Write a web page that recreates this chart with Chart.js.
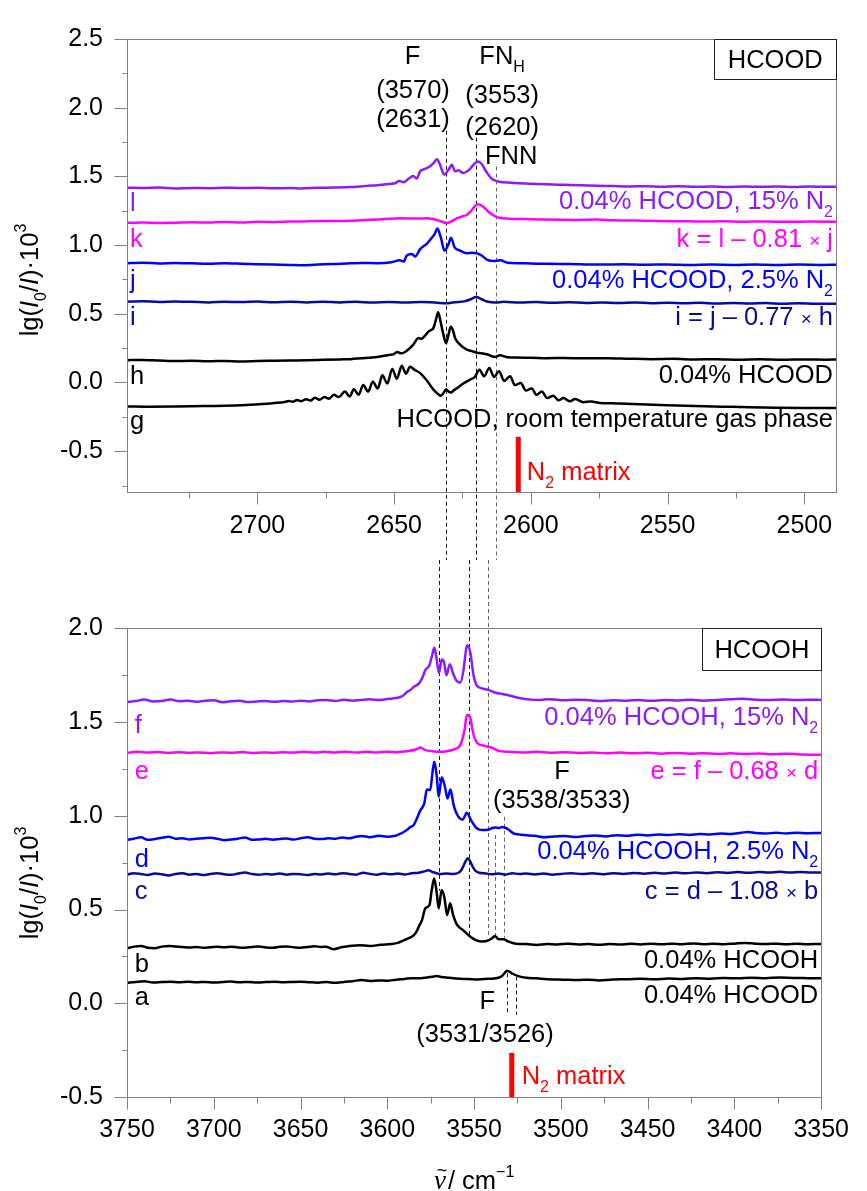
<!DOCTYPE html>
<html>
<head>
<meta charset="utf-8">
<script src="https://cdn.jsdelivr.net/npm/chart.js@4.4.1/dist/chart.umd.min.js"></script>
<style>
  html, body { margin: 0; padding: 0; background: #fff; }
  #wrap { position: relative; width: 867px; height: 1191px; overflow: hidden; }
  #c1 { position: absolute; left: 0; top: 0; }
  #c2 { position: absolute; left: 0; top: 560px; }
</style>
</head>
<body>
<div id="wrap">
  <canvas id="c1" width="867" height="560"></canvas>
  <canvas id="c2" width="867" height="631"></canvas>
</div>
<script>
// ---------- HCOOD region (upper panel), wavenumber / cm-1 vs absorbance ----------
const traceL = [[2748,1.418],[2742,1.416],[2736,1.419],[2730,1.412],[2724,1.416],[2718,1.414],[2712,1.418],[2706,1.415],[2700,1.417],[2694,1.413],[2688,1.416],[2684,1.412],[2678,1.417],[2672,1.419],[2666,1.422],[2660,1.431],[2656,1.436],[2653,1.443],[2650,1.448],[2648,1.466],[2646.5,1.458],[2645,1.478],[2643,1.502],[2641.7,1.485],[2640.5,1.537],[2638.7,1.554],[2637,1.572],[2635.6,1.596],[2634.4,1.624],[2633.2,1.584],[2631.7,1.513],[2630.1,1.549],[2628.9,1.584],[2627.7,1.537],[2626.5,1.544],[2624.7,1.525],[2622.8,1.544],[2621,1.584],[2619.4,1.608],[2618,1.590],[2616.1,1.528],[2614.3,1.483],[2612.5,1.466],[2610,1.457],[2606,1.452],[2600,1.447],[2594,1.442],[2588,1.439],[2582,1.436],[2576,1.432],[2570,1.430],[2564,1.427],[2558,1.429],[2552,1.425],[2546,1.428],[2540,1.424],[2534,1.426],[2528,1.423],[2522,1.427],[2516,1.424],[2510,1.426],[2504,1.423],[2498,1.427],[2492,1.424],[2488,1.425]];
const traceK = [[2748,1.162],[2742,1.165],[2736,1.160],[2730,1.163],[2724,1.166],[2718,1.164],[2712,1.168],[2706,1.165],[2700,1.169],[2694,1.167],[2688,1.171],[2684,1.172],[2678,1.175],[2672,1.176],[2666,1.178],[2660,1.183],[2654,1.188],[2648,1.195],[2642,1.193],[2638,1.195],[2634.4,1.183],[2632.5,1.170],[2630.8,1.160],[2629,1.172],[2627.1,1.195],[2625,1.210],[2623.4,1.219],[2621.6,1.254],[2620.4,1.285],[2619.2,1.297],[2617.3,1.278],[2614.9,1.231],[2611.9,1.200],[2608,1.192],[2602,1.189],[2596,1.186],[2590,1.184],[2584,1.183],[2576,1.186],[2570,1.181],[2562,1.179],[2554,1.175],[2546,1.174],[2538,1.172],[2530,1.173],[2522,1.170],[2514,1.172],[2506,1.169],[2498,1.171],[2488,1.170]];
const traceJ = [[2748,0.868],[2742,0.872],[2736,0.866],[2730,0.870],[2724,0.867],[2718,0.864],[2712,0.868],[2706,0.865],[2700,0.861],[2694,0.858],[2688,0.856],[2684,0.853],[2678,0.858],[2672,0.862],[2666,0.868],[2662,0.870],[2656,0.868],[2651,0.875],[2648,0.889],[2646.5,0.880],[2645.4,0.924],[2643.5,0.936],[2642.3,0.917],[2640.5,0.971],[2638,1.011],[2636.2,1.054],[2635.2,1.080],[2634.2,1.120],[2632.9,1.054],[2631.6,0.960],[2630.1,1.007],[2629.2,1.054],[2627.9,0.983],[2625.9,0.960],[2623.4,0.941],[2621.5,0.944],[2619.8,0.941],[2618,0.924],[2616.1,0.894],[2613.7,0.884],[2611.2,0.889],[2608.5,0.872],[2604,0.868],[2598,0.865],[2590,0.863],[2582,0.860],[2574,0.858],[2566,0.861],[2558,0.857],[2550,0.859],[2542,0.855],[2534,0.858],[2526,0.856],[2518,0.859],[2510,0.855],[2502,0.858],[2494,0.856],[2488,0.857]];
const traceI = [[2748,0.588],[2742,0.592],[2736,0.586],[2730,0.590],[2724,0.587],[2718,0.583],[2712,0.588],[2706,0.585],[2700,0.589],[2694,0.584],[2688,0.588],[2682,0.583],[2676,0.587],[2670,0.583],[2664,0.587],[2658,0.582],[2652,0.586],[2646,0.582],[2640,0.586],[2635,0.582],[2631,0.576],[2628,0.584],[2624,0.592],[2622,0.606],[2620,0.622],[2618,0.606],[2616,0.589],[2613,0.582],[2610,0.587],[2604,0.582],[2598,0.586],[2592,0.580],[2586,0.584],[2580,0.579],[2574,0.583],[2568,0.578],[2562,0.582],[2556,0.577],[2550,0.581],[2544,0.576],[2538,0.580],[2532,0.575],[2526,0.579],[2520,0.574],[2514,0.578],[2508,0.573],[2502,0.577],[2496,0.573],[2488,0.574]];
const traceH = [[2748,0.162],[2742,0.164],[2736,0.160],[2730,0.156],[2724,0.158],[2718,0.154],[2712,0.157],[2706,0.153],[2700,0.156],[2694,0.158],[2688,0.160],[2682,0.162],[2676,0.165],[2670,0.168],[2666,0.170],[2662,0.176],[2658,0.182],[2654,0.193],[2652,0.200],[2650.3,0.205],[2648.8,0.222],[2647.5,0.212],[2646,0.222],[2644.8,0.240],[2643,0.276],[2641.1,0.323],[2640,0.318],[2639.3,0.328],[2638.3,0.350],[2637.5,0.370],[2636.5,0.382],[2635.7,0.394],[2634.8,0.450],[2633.9,0.511],[2633,0.441],[2632,0.350],[2631,0.287],[2630.2,0.340],[2629.3,0.405],[2628.5,0.380],[2627.7,0.323],[2625.9,0.276],[2623.5,0.240],[2621.5,0.228],[2619.8,0.217],[2618,0.212],[2616.1,0.205],[2614.5,0.193],[2613.1,0.186],[2611.3,0.198],[2609,0.186],[2605.2,0.181],[2600,0.180],[2594,0.177],[2588,0.178],[2580,0.176],[2572,0.177],[2564,0.173],[2556,0.170],[2548,0.172],[2540,0.168],[2532,0.170],[2524,0.166],[2516,0.169],[2508,0.165],[2500,0.168],[2492,0.166],[2488,0.167]];
const traceG = [[2748,-0.174],[2740,-0.176],[2730,-0.175],[2720,-0.172],[2712,-0.170],[2704,-0.164],[2698,-0.157],[2694,-0.150],[2690,-0.142],[2688.5,-0.135],[2687,-0.140],[2685.5,-0.128],[2684,-0.136],[2682.3,-0.122],[2680.6,-0.132],[2679,-0.112],[2677.3,-0.126],[2675.5,-0.105],[2673.8,-0.118],[2672,-0.090],[2670.2,-0.106],[2668,-0.066],[2666.3,-0.102],[2664.7,-0.050],[2663,-0.090],[2661.3,-0.019],[2659.5,-0.066],[2657.8,0.005],[2656,-0.043],[2654.3,0.052],[2652.5,-0.007],[2650.7,0.099],[2649,0.028],[2647.2,0.122],[2645.7,0.064],[2644.2,0.115],[2642.5,0.092],[2640.5,0.068],[2638.1,0.016],[2635.7,-0.050],[2634,-0.083],[2633,-0.097],[2632,-0.078],[2631,-0.050],[2630.1,-0.066],[2629.3,-0.073],[2628,-0.054],[2627.1,-0.043],[2624.7,-0.007],[2622.2,0.021],[2620.5,0.040],[2618.8,0.092],[2617.1,0.045],[2615.2,0.106],[2613.5,0.040],[2611.6,0.082],[2609.8,0.012],[2607.6,0.045],[2605.8,-0.019],[2603.7,-0.003],[2601.8,-0.059],[2599.7,-0.043],[2597.9,-0.090],[2596,-0.066],[2594,-0.113],[2591.8,-0.097],[2589.9,-0.130],[2588.1,-0.113],[2585.7,-0.137],[2583.8,-0.120],[2580.8,-0.144],[2578,-0.138],[2574.7,-0.149],[2570,-0.152],[2567.4,-0.153],[2560,-0.158],[2550,-0.166],[2540,-0.172],[2530,-0.176],[2520,-0.180],[2510,-0.183],[2500,-0.185],[2488,-0.186]];

// ---------- HCOOH region (lower panel) ----------
const traceF = [[3750,1.607],[3745,1.612],[3740,1.620],[3735,1.610],[3730,1.612],[3725,1.620],[3720,1.611],[3715,1.613],[3710,1.608],[3705,1.614],[3700,1.616],[3695,1.606],[3690,1.611],[3685,1.613],[3680,1.607],[3675,1.610],[3670,1.612],[3665,1.608],[3660,1.612],[3655,1.609],[3650,1.614],[3645,1.610],[3640,1.616],[3635,1.617],[3630,1.612],[3625,1.619],[3620,1.614],[3615,1.618],[3610,1.621],[3605,1.617],[3600,1.623],[3597,1.626],[3594,1.630],[3591.3,1.638],[3588.5,1.661],[3586.5,1.672],[3584.7,1.688],[3581.9,1.705],[3580,1.732],[3578.1,1.777],[3576.8,1.790],[3575.7,1.803],[3574.4,1.848],[3572.9,1.897],[3571.5,1.830],[3570.2,1.762],[3568.7,1.833],[3567.4,1.821],[3565.9,1.750],[3564,1.808],[3562.1,1.759],[3560.3,1.723],[3558,1.709],[3556.1,1.777],[3555,1.860],[3554.1,1.910],[3552.2,1.874],[3550.5,1.759],[3548.6,1.697],[3545.2,1.679],[3541.4,1.670],[3537.7,1.656],[3534,1.650],[3530.2,1.643],[3526,1.632],[3522.6,1.625],[3518,1.620],[3513,1.617],[3508,1.621],[3503.8,1.620],[3498,1.616],[3492,1.619],[3485,1.617],[3478,1.612],[3470,1.616],[3462,1.614],[3455,1.618],[3448,1.613],[3440,1.617],[3432,1.615],[3425,1.619],[3418,1.614],[3410,1.618],[3402,1.621],[3395,1.624],[3388,1.619],[3380,1.618],[3372,1.620],[3365,1.617],[3358,1.619],[3350,1.618]];
const traceE = [[3750,1.336],[3744,1.341],[3738,1.337],[3732,1.340],[3726,1.335],[3720,1.339],[3714,1.336],[3708,1.338],[3702,1.334],[3696,1.338],[3690,1.336],[3684,1.340],[3678,1.335],[3672,1.338],[3666,1.336],[3660,1.339],[3654,1.337],[3648,1.341],[3642,1.338],[3636,1.341],[3630,1.338],[3624,1.342],[3618,1.337],[3612,1.341],[3606,1.338],[3600,1.342],[3594,1.339],[3588,1.345],[3583,1.355],[3580.9,1.364],[3578,1.350],[3574,1.344],[3569.7,1.341],[3565,1.346],[3561,1.356],[3558.4,1.371],[3557,1.400],[3555.5,1.457],[3554.1,1.537],[3552.2,1.524],[3551.3,1.480],[3550.5,1.439],[3549,1.400],[3548,1.386],[3545,1.376],[3543.3,1.371],[3540,1.364],[3535.8,1.346],[3530,1.341],[3522,1.338],[3514,1.341],[3506,1.336],[3498,1.339],[3490,1.335],[3482,1.338],[3474,1.333],[3466,1.337],[3458,1.333],[3450,1.336],[3442,1.331],[3434,1.335],[3426,1.331],[3418,1.334],[3410,1.330],[3402,1.333],[3394,1.329],[3386,1.332],[3378,1.328],[3370,1.331],[3362,1.327],[3350,1.326]];
const traceD = [[3750,0.872],[3746,0.878],[3742,0.885],[3738,0.872],[3734,0.876],[3730,0.883],[3726,0.888],[3722,0.878],[3718,0.880],[3714,0.874],[3710,0.877],[3706,0.880],[3702,0.883],[3698,0.878],[3694,0.870],[3690,0.874],[3686,0.878],[3682,0.884],[3678,0.872],[3674,0.874],[3670,0.877],[3666,0.872],[3662,0.876],[3658,0.879],[3654,0.873],[3650,0.880],[3646,0.886],[3642,0.878],[3638,0.876],[3634,0.880],[3630,0.878],[3626,0.884],[3622,0.880],[3618,0.888],[3614.8,0.892],[3610,0.886],[3605,0.893],[3600,0.888],[3596,0.892],[3593,0.902],[3590.3,0.915],[3588,0.930],[3586.6,0.941],[3585,0.948],[3583.8,0.968],[3580.9,1.030],[3578.7,1.066],[3577.2,1.140],[3575.3,1.137],[3573.8,1.244],[3572.9,1.288],[3571.5,1.208],[3570.4,1.101],[3568.7,1.205],[3566.8,1.155],[3565.3,1.092],[3563.6,1.140],[3561.8,1.057],[3559.3,0.998],[3556.5,0.980],[3554.2,1.016],[3551.8,0.977],[3549,0.938],[3547,0.926],[3545.2,0.924],[3541.4,0.927],[3539.5,0.935],[3537.7,0.938],[3535.5,0.935],[3533.9,0.940],[3532,0.936],[3530.2,0.927],[3527.3,0.906],[3524,0.900],[3520.8,0.897],[3515,0.893],[3509.5,0.885],[3504,0.890],[3498,0.892],[3492,0.887],[3486,0.892],[3480,0.895],[3474,0.890],[3468,0.896],[3462,0.893],[3456,0.899],[3450,0.895],[3444,0.900],[3438,0.897],[3432,0.902],[3426,0.898],[3420,0.903],[3414,0.900],[3408,0.905],[3402,0.903],[3396,0.910],[3392,0.914],[3388,0.908],[3382,0.906],[3376,0.909],[3370,0.906],[3364,0.910],[3358,0.907],[3350,0.908]];
const traceC = [[3750,0.686],[3746,0.694],[3742,0.690],[3738,0.684],[3734,0.692],[3730,0.688],[3726,0.682],[3722,0.690],[3718,0.693],[3714,0.686],[3710,0.690],[3706,0.684],[3702,0.690],[3698,0.693],[3694,0.688],[3690,0.685],[3686,0.692],[3682,0.697],[3678,0.689],[3674,0.685],[3670,0.690],[3666,0.687],[3662,0.692],[3658,0.686],[3654,0.690],[3650,0.688],[3646,0.684],[3642,0.690],[3638,0.687],[3634,0.692],[3630,0.688],[3626,0.694],[3622,0.690],[3618,0.686],[3614,0.696],[3610,0.690],[3606,0.686],[3602,0.692],[3598,0.688],[3594,0.692],[3590,0.687],[3586,0.693],[3582,0.696],[3578,0.705],[3576.2,0.710],[3574,0.700],[3571,0.692],[3569.6,0.689],[3566,0.692],[3562,0.690],[3559,0.696],[3557.5,0.708],[3556.5,0.725],[3555,0.755],[3553.7,0.773],[3552.3,0.758],[3550.8,0.728],[3549,0.705],[3547,0.696],[3543,0.692],[3540,0.688],[3536,0.692],[3532,0.686],[3528,0.694],[3524,0.689],[3520,0.692],[3515,0.687],[3510,0.692],[3505,0.686],[3500,0.690],[3494,0.694],[3488,0.689],[3482,0.693],[3476,0.688],[3470,0.694],[3464,0.690],[3458,0.695],[3452,0.691],[3446,0.696],[3440,0.692],[3434,0.697],[3428,0.693],[3422,0.698],[3416,0.694],[3410,0.699],[3404,0.695],[3398,0.700],[3392,0.696],[3386,0.700],[3380,0.697],[3374,0.701],[3368,0.697],[3362,0.700],[3356,0.697],[3350,0.698]];
const traceB = [[3750,0.293],[3746,0.302],[3742,0.306],[3738,0.296],[3734,0.294],[3730,0.302],[3726,0.306],[3722,0.303],[3718,0.300],[3714,0.297],[3710,0.300],[3706,0.296],[3702,0.299],[3698,0.302],[3694,0.299],[3690,0.302],[3686,0.298],[3682,0.296],[3678,0.300],[3674,0.303],[3670,0.298],[3666,0.296],[3662,0.301],[3658,0.303],[3654,0.299],[3650,0.296],[3646,0.300],[3642,0.304],[3638,0.300],[3635.5,0.302],[3631,0.288],[3626,0.300],[3622,0.305],[3616,0.310],[3610,0.305],[3604,0.312],[3597.9,0.316],[3594,0.322],[3590.3,0.337],[3587,0.350],[3584.7,0.364],[3583,0.385],[3581.9,0.408],[3580,0.444],[3578.1,0.506],[3575.7,0.524],[3574.4,0.604],[3573,0.666],[3571.5,0.586],[3570.4,0.506],[3568.7,0.604],[3567.2,0.568],[3565.5,0.471],[3563.8,0.533],[3562.1,0.471],[3560.3,0.426],[3558.5,0.405],[3556.5,0.391],[3552.7,0.359],[3549,0.337],[3545.2,0.329],[3541.4,0.337],[3539.5,0.348],[3538.1,0.359],[3535.8,0.341],[3533,0.341],[3530.2,0.329],[3526,0.318],[3520,0.316],[3514,0.311],[3508,0.316],[3502,0.313],[3496,0.318],[3490,0.314],[3484,0.316],[3478,0.312],[3472,0.316],[3466,0.313],[3460,0.317],[3454,0.314],[3448,0.318],[3442,0.315],[3436,0.318],[3430,0.315],[3424,0.319],[3418,0.315],[3412,0.318],[3406,0.315],[3400,0.318],[3394,0.322],[3388,0.318],[3382,0.316],[3376,0.318],[3370,0.315],[3364,0.317],[3358,0.315],[3350,0.316]];
const traceA = [[3750,0.110],[3745,0.114],[3740,0.117],[3735,0.111],[3730,0.113],[3725,0.115],[3720,0.112],[3715,0.115],[3710,0.112],[3705,0.114],[3700,0.111],[3695,0.113],[3690,0.116],[3685,0.112],[3680,0.114],[3675,0.111],[3670,0.113],[3665,0.115],[3660,0.112],[3655,0.114],[3650,0.115],[3645,0.112],[3640,0.110],[3635,0.113],[3630,0.109],[3625,0.114],[3620,0.118],[3614.8,0.124],[3610,0.119],[3605,0.122],[3600,0.120],[3595,0.126],[3590,0.130],[3586,0.134],[3582,0.133],[3577.2,0.138],[3574,0.142],[3571.5,0.145],[3569,0.140],[3566,0.138],[3562.1,0.133],[3556,0.130],[3549,0.127],[3544,0.130],[3539.6,0.131],[3536,0.136],[3533.9,0.145],[3532.5,0.160],[3531.1,0.174],[3529.5,0.168],[3528.3,0.160],[3524.5,0.145],[3520,0.136],[3514,0.133],[3508,0.128],[3502,0.127],[3496,0.125],[3490,0.124],[3484,0.126],[3478,0.122],[3470,0.127],[3462,0.128],[3454,0.131],[3446,0.128],[3438,0.132],[3430,0.130],[3422,0.134],[3414,0.131],[3406,0.135],[3398,0.133],[3390,0.136],[3382,0.134],[3374,0.137],[3366,0.135],[3358,0.134],[3350,0.133]];

// band positions (cm-1) marked by dashed guides
const guidesTop = [2631, 2620, 2612.7];
const guidesBottom = [3570, 3553, 3541.8, 3538, 3533, 3531, 3526];
// N2 matrix marker positions
const matrixTop = 2604.6;
const matrixBottom = 3528.3;

// ---------- styling ----------
const FONT = '"Liberation Sans", Arial, Helvetica, sans-serif';
const VIOLET = '#8c1aff', MAGENTA = '#ff00ff', BLUE = '#0000ff', NAVY = '#0a0a9a', BLACK = '#000000', RED = '#ff0000';
const AXIS = '#808080';
const NS = 25.5, SS = 16;

const t = s => ({ t: s, font: `${NS}px ${FONT}` });
const it = s => ({ t: s, font: `italic ${NS}px ${FONT}` });
const sm = s => ({ t: s, font: `19px ${FONT}` });
const sub = s => ({ t: s, font: `${SS}px ${FONT}`, dy: 8 });
const sup = s => ({ t: s, font: `${SS}px ${FONT}`, dy: -12 });

function richWidth(ctx, parts) {
  let w = 0;
  for (const p of parts) { ctx.font = p.font; w += ctx.measureText(p.t).width; }
  return w;
}
function drawRich(ctx, x, yc, parts, align, color) {
  const w = richWidth(ctx, parts);
  let cx = align === 'right' ? x - w : align === 'center' ? x - w / 2 : x;
  const base = yc + 9;
  ctx.fillStyle = color || BLACK;
  ctx.textAlign = 'left';
  ctx.textBaseline = 'alphabetic';
  for (const p of parts) {
    ctx.font = p.font;
    ctx.fillText(p.t, cx, base + (p.dy || 0));
    cx += ctx.measureText(p.t).width;
  }
}

const decor = {
  id: 'decor',
  beforeDatasetsDraw(chart, args, o) {
    const { ctx, chartArea: a, scales: { x, y } } = chart;
    ctx.save();
    ctx.lineWidth = 1;
    ctx.setLineDash([4, 3]);
    for (const g of o.guides) {
      const px = Math.round(x.getPixelForValue(g.x)) + 0.5;
      const y0 = g.from === 'top' ? 0 : y.getPixelForValue(g.from);
      const y1 = g.to === 'bottom' ? chart.height : y.getPixelForValue(g.to);
      ctx.strokeStyle = g.gray ? '#666666' : '#1a1a1a';
      ctx.beginPath(); ctx.moveTo(px, y0); ctx.lineTo(px, y1); ctx.stroke();
    }
    ctx.setLineDash([]);
    // N2 matrix marker
    const bx = x.getPixelForValue(o.bar.x);
    ctx.strokeStyle = RED; ctx.lineWidth = 5;
    ctx.beginPath(); ctx.moveTo(bx, y.getPixelForValue(o.bar.from)); ctx.lineTo(bx, a.bottom); ctx.stroke();
    ctx.restore();
  },
  afterDraw(chart, args, o) {
    const { ctx, chartArea: a, scales: { x, y } } = chart;
    ctx.save();
    // frame
    ctx.strokeStyle = AXIS; ctx.lineWidth = 1;
    ctx.strokeRect(Math.round(a.left) + 0.5, Math.round(a.top) + 0.5,
                   Math.round(a.right - a.left), Math.round(a.bottom - a.top));
    // x ticks (major every 50, minor every 25)
    const yb = Math.round(a.bottom) + 0.5;
    ctx.beginPath();
    for (let v = Math.ceil(x.min / 25) * 25; v <= x.max + 1e-6; v += 25) {
      const px = Math.round(x.getPixelForValue(v)) + 0.5;
      const len = (v % 50 === 0) ? 12 : 6;
      ctx.moveTo(px, yb); ctx.lineTo(px, yb + len);
    }
    // y ticks (major every 0.5, minor every 0.25)
    const xl = Math.round(a.left) + 0.5;
    for (let k = Math.ceil(y.min / 0.25 - 1e-9); k * 0.25 <= y.max + 1e-9; k++) {
      const py = Math.round(y.getPixelForValue(k * 0.25)) + 0.5;
      const len = (k % 2 === 0) ? 13 : 5;
      ctx.moveTo(xl, py); ctx.lineTo(xl - len, py);
    }
    ctx.stroke();
    // sample box
    const b = o.box;
    const bl = Math.round(x.getPixelForValue(b.x)) + 0.5;
    const bbt = Math.round(y.getPixelForValue(b.bottom)) + 0.5;
    ctx.strokeStyle = '#222'; ctx.lineWidth = 1;
    ctx.strokeRect(bl, Math.round(a.top) + 0.5, Math.round(a.right) - bl + 0.5, bbt - Math.round(a.top) - 0.5);
    drawRich(ctx, (bl + a.right) / 2, y.getPixelForValue(b.ty), [t(b.text)], 'center', BLACK);
    // annotations
    for (const n of o.notes) {
      drawRich(ctx, x.getPixelForValue(n.x), y.getPixelForValue(n.y), n.parts, n.align || 'left', n.color);
    }
    // y-axis title
    ctx.translate(o.yTitle.x + 9, o.yTitle.y);
    ctx.rotate(-Math.PI / 2);
    drawRich(ctx, 0, -9, [t('lg('), it('I'), sub('0'), t('/'), it('I'), t(')\u00b710'), sup('3')], 'center', BLACK);
    ctx.setTransform(1, 0, 0, 1, 0, 0);
    // x-axis title: wavenumber symbol with tilde, then unit
    if (o.xTitle) {
      const nuFont = 'italic 27px "Liberation Serif", "DejaVu Serif", serif';
      const rest = [t('/ cm'), sup('\u22121')];
      ctx.font = nuFont;
      const wn = ctx.measureText('\u03bd').width;
      const wr = richWidth(ctx, rest);
      const x0 = (a.left + a.right) / 2 - (wn + 2 + wr) / 2;
      const base = o.xTitle.y + 9;
      ctx.fillStyle = BLACK; ctx.textBaseline = 'alphabetic';
      ctx.font = nuFont; ctx.textAlign = 'left';
      ctx.fillText('\u03bd', x0, base);
      ctx.font = `18px ${FONT}`; ctx.textAlign = 'center';
      ctx.fillText('~', x0 + wn / 2 + 2, base - 13);
      drawRich(ctx, x0 + wn + 2, o.xTitle.y, rest, 'left', BLACK);
    }
    ctx.restore();
  }
};

function makeChart(id, cfg) {
  const ds = cfg.traces.map(([data, color]) => ({
    data: data.map(([xv, yv]) => ({ x: xv, y: yv })),
    borderColor: color,
    borderWidth: 2.5,
    pointRadius: 0,
    showLine: true,
    fill: false,
    cubicInterpolationMode: 'monotone'
  }));
  return new Chart(document.getElementById(id), {
    type: 'scatter',
    data: { datasets: ds },
    options: {
      responsive: false,
      animation: false,
      events: [],
      layout: { padding: { top: cfg.padTop, right: 31, left: 0, bottom: 0 } },
      plugins: { legend: { display: false }, tooltip: { enabled: false }, decor: cfg.decor },
      scales: {
        x: {
          type: 'linear', reverse: true, min: cfg.xMin, max: cfg.xMax,
          grid: { display: false, drawTicks: false }, border: { display: false },
          ticks: { stepSize: 50, includeBounds: false, autoSkip: false, maxRotation: 0,
                   padding: cfg.xPad, color: BLACK, font: { size: 25, family: FONT },
                   callback: v => String(Math.round(v)) },
          afterFit: s => { s.height = cfg.xHeight; }
        },
        y: {
          type: 'linear', min: cfg.yMin, max: cfg.yMax,
          grid: { display: false, drawTicks: false }, border: { display: false },
          ticks: { stepSize: 0.5, includeBounds: false, autoSkip: false, padding: 24,
                   color: BLACK, font: { size: 25, family: FONT },
                   callback: v => (Math.round(v * 10) / 10).toFixed(1) },
          afterFit: s => { s.width = 127; }
        }
      }
    },
    plugins: [decor]
  });
}

// upper panel: HCOOD
makeChart('c1', {
  xMin: 2488.4, xMax: 2747.7, yMin: -0.8, yMax: 2.5,
  padTop: 25.7, xHeight: 67.6, xPad: 18.6,
  traces: [[traceL, VIOLET], [traceK, MAGENTA], [traceJ, BLUE], [traceI, NAVY], [traceH, BLACK], [traceG, BLACK]],
  decor: {
    guides: [
      { x: guidesTop[0], from: 1.832, to: 'bottom' },
      { x: guidesTop[1], from: 1.782, to: 'bottom' },
      { x: guidesTop[2], from: 1.572, to: 'bottom', gray: true }
    ],
    bar: { x: matrixTop, from: -0.396 },
    box: { x: 2533.0, bottom: 2.206, ty: 2.355, text: 'HCOOD' },
    yTitle: { x: 29, y: 280 },
    xTitle: null,
    notes: [
      { x: 2643.3, y: 2.383, parts: [t('F')], align: 'center' },
      { x: 2643.1, y: 2.136, parts: [t('(3570)')], align: 'center' },
      { x: 2643.1, y: 1.924, parts: [t('(2631)')], align: 'center' },
      { x: 2610.5, y: 2.383, parts: [t('FN'), sub('H')], align: 'center' },
      { x: 2610.5, y: 2.100, parts: [t('(3553)')], align: 'center' },
      { x: 2610.5, y: 1.867, parts: [t('(2620)')], align: 'center' },
      { x: 2607.2, y: 1.655, parts: [t('FNN')], align: 'center' },
      { x: 2489.5, y: 1.330, parts: [t('0.04% HCOOD, 15% N'), sub('2')], align: 'right', color: VIOLET },
      { x: 2489.5, y: 1.054, parts: [t('k = l \u2013 0.81 '), sm('\u00d7'), t(' j')], align: 'right', color: MAGENTA },
      { x: 2489.5, y: 0.750, parts: [t('0.04% HCOOD, 2.5% N'), sub('2')], align: 'right', color: BLUE },
      { x: 2489.5, y: 0.481, parts: [t('i = j \u2013 0.77 '), sm('\u00d7'), t(' h')], align: 'right', color: NAVY },
      { x: 2489.5, y: 0.064, parts: [t('0.04% HCOOD')], align: 'right' },
      { x: 2489.5, y: -0.262, parts: [t('HCOOD, room temperature gas phase')], align: 'right' },
      { x: 2601.5, y: -0.644, parts: [t('N'), sub('2'), t(' matrix')], align: 'left', color: RED },
      { x: 2746.6, y: 1.315, parts: [t('l')], color: VIOLET },
      { x: 2746.6, y: 1.054, parts: [t('k')], color: MAGENTA },
      { x: 2746.6, y: 0.750, parts: [t('j')], color: BLUE },
      { x: 2746.6, y: 0.481, parts: [t('i')], color: NAVY },
      { x: 2746.6, y: 0.057, parts: [t('h')], color: BLACK },
      { x: 2746.6, y: -0.276, parts: [t('g')], color: BLACK }
    ]
  }
});

// lower panel: HCOOH
makeChart('c2', {
  xMin: 3350, xMax: 3750, yMin: -0.5, yMax: 2.0,
  padTop: 68.3, xHeight: 94, xPad: 18,
  traces: [[traceF, VIOLET], [traceE, MAGENTA], [traceD, BLUE], [traceC, NAVY], [traceB, BLACK], [traceA, BLACK]],
  decor: {
    guides: [
      { x: guidesBottom[0], from: 'top', to: 0.60 },
      { x: guidesBottom[1], from: 'top', to: 0.355 },
      { x: guidesBottom[2], from: 'top', to: 0.36, gray: true },
      { x: guidesBottom[3], from: 0.898, to: 0.36, gray: true },
      { x: guidesBottom[4], from: 0.995, to: 0.35, gray: true },
      { x: guidesBottom[5], from: 0.16, to: -0.053 },
      { x: guidesBottom[6], from: 0.142, to: -0.062 }
    ],
    bar: { x: matrixBottom, from: -0.265 },
    box: { x: 3418.8, bottom: 1.775, ty: 1.889, text: 'HCOOH' },
    yTitle: { x: 29, y: 323 },
    xTitle: { y: 620 },
    notes: [
      { x: 3499.3, y: 1.244, parts: [t('F')], align: 'center' },
      { x: 3499.5, y: 1.091, parts: [t('(3538/3533)')], align: 'center' },
      { x: 3542.4, y: 0.018, parts: [t('F')], align: 'center' },
      { x: 3543.7, y: -0.158, parts: [t('(3531/3526)')], align: 'center' },
      { x: 3351.7, y: 1.532, parts: [t('0.04% HCOOH, 15% N'), sub('2')], align: 'right', color: VIOLET },
      { x: 3351.7, y: 1.244, parts: [t('e = f \u2013 0.68 '), sm('\u00d7'), t(' d')], align: 'right', color: MAGENTA },
      { x: 3351.7, y: 0.817, parts: [t('0.04% HCOOH, 2.5% N'), sub('2')], align: 'right', color: BLUE },
      { x: 3351.7, y: 0.602, parts: [t('c = d \u2013 1.08 '), sm('\u00d7'), t(' b')], align: 'right', color: NAVY },
      { x: 3351.7, y: 0.237, parts: [t('0.04% HCOOH')], align: 'right' },
      { x: 3351.7, y: 0.051, parts: [t('0.04% HCOOD')], align: 'right' },
      { x: 3522.6, y: -0.383, parts: [t('N'), sub('2'), t(' matrix')], align: 'left', color: RED },
      { x: 3745.5, y: 1.489, parts: [t('f')], color: VIOLET },
      { x: 3745.5, y: 1.244, parts: [t('e')], color: MAGENTA },
      { x: 3745.5, y: 0.775, parts: [t('d')], color: BLUE },
      { x: 3745.5, y: 0.604, parts: [t('c')], color: NAVY },
      { x: 3745.5, y: 0.215, parts: [t('b')], color: BLACK },
      { x: 3745.5, y: 0.041, parts: [t('a')], color: BLACK }
    ]
  }
});
</script>
</body>
</html>
